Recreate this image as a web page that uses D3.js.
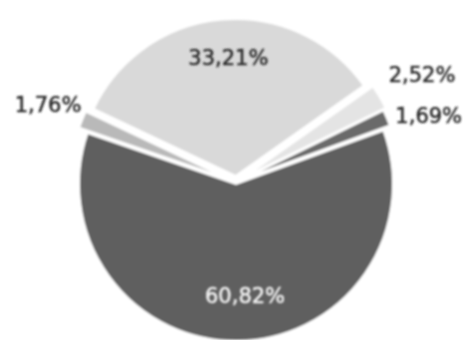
<!DOCTYPE html>
<html>
<head>
<meta charset="utf-8">
<script src="https://cdn.jsdelivr.net/npm/d3@7/dist/d3.min.js"></script>
<style>
  html, body { margin: 0; padding: 0; background: #ffffff; }
  svg { display: block; }
</style>
</head>
<body>
<svg id="chart" width="470" height="340"></svg>
<script>
// Share of each category, in drawing order (clockwise)
const labels = ["60,82%", "1,76%", "33,21%", "2,52%", "1,69%"];
const values = [60.82, 1.76, 33.21, 2.52, 1.69];
const colors = ["#5e5e5e", "#b9b9b9", "#d9d9d9", "#e4e4e4", "#6a6a6a"];

const width = 470, height = 340;
const cx = 236, cy = 182, radius = 157;
const deg = Math.PI / 180;
const start = 70 * deg;

const svg = d3.select("#chart");

const defs = svg.append("defs");
defs.append("filter").attr("id", "soft")
  .append("feGaussianBlur").attr("stdDeviation", 0.9);

const pie = d3.pie().sort(null).value(d => d)
  .startAngle(start).endAngle(start + 2 * Math.PI);
const arcs = pie(values);

const arc = d3.arc().innerRadius(0).outerRadius(radius);

// Distance each slice is pulled out from the centre
const explode = [2, 9, 6, 10, 7];

const g = svg.append("g")
  .attr("transform", `translate(${cx},${cy})`)
  .attr("filter", "url(#soft)");

g.selectAll("path")
  .data(arcs)
  .join("path")
  .attr("d", arc)
  .attr("fill", (d, i) => colors[i])
  .attr("stroke", "#ffffff")
  .attr("stroke-width", 2)
  .attr("transform", (d, i) => {
    const a = (d.startAngle + d.endAngle) / 2;
    return `translate(${Math.sin(a) * explode[i]},${-Math.cos(a) * explode[i]})`;
  });

// Labels: large slices inside, thin slices outside
const labelRadius = [0.72, 1.32, 0.79, 1.34, 1.32];
const labelNudge = [[8, 0], [4, 0], [3, -1], [5, 0], [2, 15]];

const lg = svg.append("g")
  .attr("transform", `translate(${cx},${cy})`)
  .attr("filter", "url(#soft)");

lg.selectAll("text")
  .data(arcs)
  .join("text")
  .attr("x", (d, i) => {
    const a = (d.startAngle + d.endAngle) / 2;
    return Math.sin(a) * radius * labelRadius[i] + labelNudge[i][0];
  })
  .attr("y", (d, i) => {
    const a = (d.startAngle + d.endAngle) / 2;
    return -Math.cos(a) * radius * labelRadius[i] + labelNudge[i][1];
  })
  .attr("dy", "0.36em")
  .attr("text-anchor", "middle")
  .attr("font-family", "'DejaVu Sans', sans-serif")
  .attr("font-size", 21)
  .attr("fill", (d, i) => i === 0 ? "#f2f2f2" : "#2b2b2b")
  .attr("stroke", (d, i) => i === 0 ? "#f2f2f2" : "#2b2b2b")
  .attr("stroke-width", 0.5)
  .text((d, i) => labels[i]);
</script>
</body>
</html>
